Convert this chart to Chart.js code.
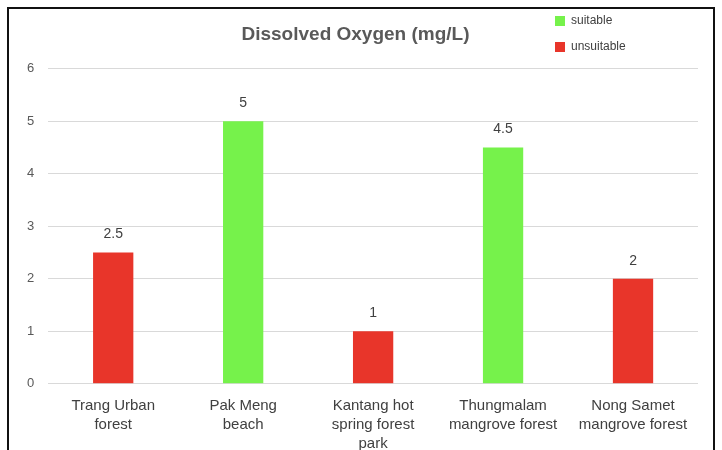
<!DOCTYPE html>
<html lang="en">
<head>
<meta charset="UTF-8">
<title>Dissolved Oxygen</title>
<script src="https://cdn.jsdelivr.net/npm/chart.js"></script>
<style>
    body { margin: 0; background: #fff; }
    .frame {
        position: absolute; left: 7px; top: 7px;
        width: 708px; height: 460px;
        border: 2px solid #111; box-sizing: border-box;
    }
    .frame canvas { display: block; }
</style>
</head>
<body>
<div class="frame">
    <canvas id="grafico" width="704" height="448"></canvas>
</div>

<script>
    // dados do grafico
    var locais = [
        ["Trang Urban", "forest"],
        ["Pak Meng", "beach"],
        ["Kantang hot", "spring forest", "park"],
        ["Thungmalam", "mangrove forest"],
        ["Nong Samet", "mangrove forest"]
    ];
    var oxigenio = [2.5, 5, 1, 4.5, 2];
    var adequado = [false, true, false, true, false];
    var legendaNomes = ["suitable", "unsuitable"];
    var yTicks = [0, 1, 2, 3, 4, 5, 6];

    var verde = "#76f24b";
    var vermelho = "#e8352a";

    var coresBarras = [];
    for (let i = 0; i < adequado.length; i++) {
        coresBarras.push(adequado[i] ? verde : vermelho);
    }

    // rotulos em cima das barras
    var rotulosPlugin = {
        id: "rotulos",
        afterDatasetsDraw(chart) {
            var ctx = chart.ctx;
            var meta = chart.getDatasetMeta(0);
            ctx.save();
            ctx.font = "14px 'Liberation Sans', Arial, sans-serif";
            ctx.fillStyle = "#404040";
            ctx.textAlign = "center";
            ctx.textBaseline = "bottom";
            meta.data.forEach((bar, i) => {
                ctx.fillText(String(oxigenio[i]), bar.x, bar.y - 11);
            });
            ctx.restore();
        }
    };

    // legenda no canto superior direito
    var legendaPlugin = {
        id: "legendaCanto",
        afterDraw(chart) {
            var ctx = chart.ctx;
            var cores = [verde, vermelho];
            ctx.save();
            ctx.font = "12px 'Liberation Sans', Arial, sans-serif";
            ctx.textBaseline = "middle";
            for (let i = 0; i < legendaNomes.length; i++) {
                var y = 12 + i * 26;
                ctx.fillStyle = cores[i];
                ctx.fillRect(546, y - 5, 10, 10);
                ctx.fillStyle = "#404040";
                ctx.fillText(legendaNomes[i], 562, y);
            }
            ctx.restore();
        }
    };

    new Chart(document.getElementById("grafico"), {
        type: "bar",
        data: {
            labels: locais,
            datasets: [{
                label: "Dissolved Oxygen",
                data: oxigenio,
                backgroundColor: coresBarras,
                barPercentage: 0.31,
                categoryPercentage: 1
            }]
        },
        options: {
            responsive: false,
            animation: false,
            layout: { padding: { left: 4, right: 15, top: 0, bottom: 0 } },
            plugins: {
                legend: { display: false },
                tooltip: { enabled: false },
                title: {
                    display: true,
                    text: "Dissolved Oxygen (mg/L)",
                    color: "#595959",
                    font: { family: "'Liberation Sans', Arial, sans-serif", size: 19, weight: "bold" },
                    padding: { top: 14, bottom: 23 }
                }
            },
            scales: {
                x: {
                    grid: { display: false },
                    border: { display: false },
                    ticks: {
                        color: "#404040",
                        font: { family: "'Liberation Sans', Arial, sans-serif", size: 15, lineHeight: 1.27 },
                        maxRotation: 0,
                        autoSkip: false,
                        padding: 4
                    }
                },
                y: {
                    min: 0,
                    max: 6,
                    afterBuildTicks(axis) {
                        axis.ticks = yTicks.map(v => ({ value: v }));
                    },
                    grid: { color: "#d9d9d9", drawTicks: false },
                    border: { display: false },
                    ticks: {
                        color: "#595959",
                        font: { family: "'Liberation Sans', Arial, sans-serif", size: 13 },
                        padding: 14
                    }
                }
            }
        },
        plugins: [rotulosPlugin, legendaPlugin]
    });
</script>
</body>
</html>
